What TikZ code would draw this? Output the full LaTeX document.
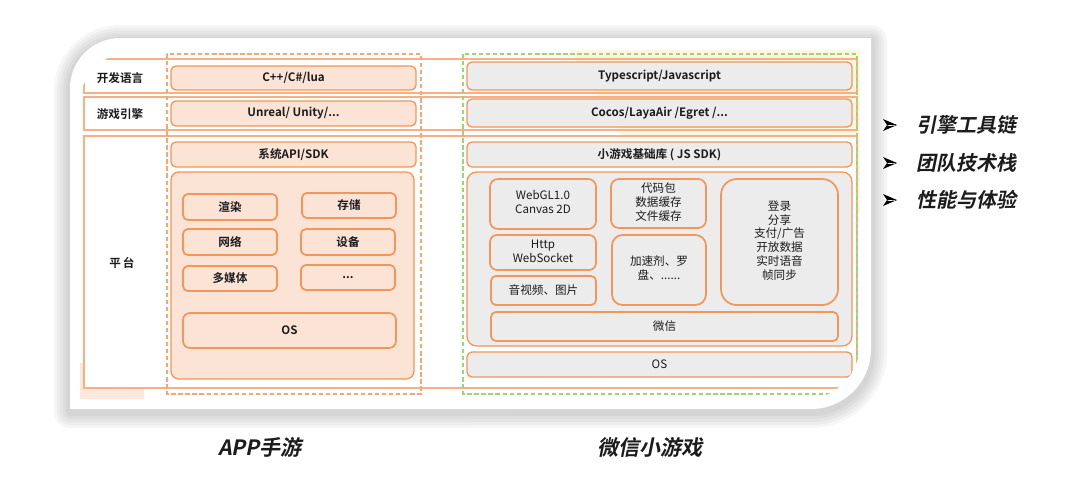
\documentclass[tikz,border=0pt]{standalone}
\usepackage{fontspec}
\setmainfont{Noto Sans CJK SC}[BoldFont={Noto Sans CJK SC Bold}]
\newfontfamily\slfont{Noto Sans CJK SC Bold}[FakeSlant=0.2]
\usetikzlibrary{fit}
\definecolor{org}{RGB}{242,150,90}
\definecolor{orgl}{RGB}{246,176,132}
\definecolor{peach}{RGB}{251,228,214}
\definecolor{gfill}{RGB}{236,236,236}
\definecolor{grn}{RGB}{160,210,120}
\definecolor{ylw}{RGB}{253,246,224}
\definecolor{txt}{RGB}{28,28,28}
\newcommand\bfs{\fontsize{6.6}{7.8}\selectfont}
\newcommand\bigfs{\fontsize{11.4}{13}\selectfont}
\newcommand\ml[1]{\begin{tabular}{@{}c@{}}#1\end{tabular}}
\tikzset{
  card/.style={insert path={(70,409) -- (70,88) arc[start angle=180,end angle=90,radius=1cm] -- (871,38) -- (871,349) arc[start angle=0,end angle=-90,radius=1.2cm] -- cycle}},
  rowband/.style={draw=orgl, line width=0.85pt},
  btxt/.style={font=\bfs\bfseries, text=txt, inner sep=0pt},
  rtxt/.style={font=\bfs, text=txt, inner sep=0pt},
  pbox/.style={draw=org, fill=peach, line width=0.75pt, rounded corners=2.8pt, inner sep=0pt},
  pin/.style={pbox, line width=1pt},
  gbox/.style={draw=org, fill=gfill, line width=0.75pt, rounded corners=2.8pt, inner sep=0pt},
  gin/.style={gbox, line width=1pt},
  bt/.style={label={[btxt]center:{#1}}},
  rt/.style={label={[rtxt]center:{#1}}},
  lbl/.style={font=\bfs\bfseries, text=txt},
  bul/.style={font=\bigfs\slfont, text=txt, anchor=west, inner sep=0pt},
  ttl/.style={font=\fontsize{12}{14}\selectfont\slfont, text=txt, inner sep=0pt},
  arrowhd/.pic={
    \fill[black] (7,0) -- (-7,-6) -- (-3,0) -- cycle;
    \fill[black] (7,0) -- (-7,6) -- (-3,0) -- cycle;
    \draw[white, line width=0.35pt] (-2.5,0.6) -- (5,0.3);
  },
}
\begin{document}
\begin{tikzpicture}[x=0.02cm,y=-0.02cm]
\useasboundingbox (0,0) rectangle (1080,498);
% card shadow
\begin{scope}[yshift=-0.06cm]
\foreach \w in {32,26,20,14,8}{
  \draw[line width=\w*0.02cm, black, opacity=0.035, line join=round, card];
}
\end{scope}
\fill[white, card];
\begin{scope}
\clip (78,400) -- (78,110) arc[start angle=180,end angle=90,radius=1.2cm] -- (860,50) -- (860,343) arc[start angle=0,end angle=-90,radius=1.14cm] -- cycle;
% background remnants
\fill[ylw] (570,50) -- (860,50) -- (860,213) -- (857,213) -- (857,136) -- (622,136) -- cycle;
\fill[peach!85!white] (80,363) -- (84,363) -- (84,389) -- (144,389) -- (144,399) -- (80,399) -- cycle;
% row bands
\draw[rowband] (84,59) rectangle (857,93);
\draw[rowband] (84,97) rectangle (857,130);
\draw[rowband] (84,136) rectangle (857,388);
% dashed columns
\draw[org!85!white, line width=0.7pt, dash pattern=on 2.4pt off 1.6pt] (167,54) rectangle (421,394);
\draw[grn, line width=0.7pt, dash pattern=on 2.4pt off 1.6pt] (463,54) rectangle (857,394);
% left column
\node[pbox, fit={(171,66) (416,90)}, bt={C++/C\#/lua}] (cpp) {};
\node[pbox, fit={(171,101) (416,126)}, bt={Unreal/ Unity/...}] (unreal) {};
\node[pbox, fit={(171,142) (416,167)}, bt={系统API/SDK}] (sysapi) {};
\node[pbox, rounded corners=4.5pt, fit={(171,172) (414,379)}] (lbig) {};
\node[pin, fit={(183,194) (277,220)}, bt={渲染}] (xr) {};
\node[pin, fit={(302,193) (396,218)}, bt={存储}] (cc) {};
\node[pin, fit={(183,229) (277,255)}, bt={网络}] (wl) {};
\node[pin, fit={(301,229) (395,255)}, bt={设备}] (sb) {};
\node[pin, fit={(183,266) (277,291)}, bt={多媒体}] (dmt) {};
\node[pin, fit={(301,265) (395,290)}, bt={...}] (etc) {};
\node[pin, rounded corners=4pt, fit={(183,313) (396,348)}, bt={OS}] (los) {};
% right column
\node[gbox, fit={(467,62) (852,90)}, bt={Typescript/Javascript}] (ts) {};
\node[gbox, fit={(467,99) (852,127)}, bt={Cocos/LayaAir /Egret /...}] (cocos) {};
\node[gbox, fit={(467,142) (852,167)}, bt={小游戏基础库 ( JS SDK)}] (jssdk) {};
\node[gbox, rounded corners=5.5pt, fit={(467,172) (852,346)}] (rbig) {};
\node[gin, rounded corners=4.5pt, fit={(490,179) (596,229)}, rt={\ml{WebGL1.0\\Canvas 2D}}] (webgl) {};
\node[gin, rounded corners=4pt, fit={(490,235) (596,270)}, rt={\ml{Http\\WebSocket}}] (http) {};
\node[gin, fit={(491,276) (596,305)}, rt={音视频、图片}] (av) {};
\node[gin, rounded corners=4.5pt, fit={(611,179) (706,228)}, rt={\ml{代码包\\数据缓存\\文件缓存}}] (code) {};
\node[gin, rounded corners=6pt, fit={(612,235) (706,305)}, rt={\ml{加速剂、罗\\盘、......}}] (accel) {};
\node[gin, rounded corners=9pt, fit={(721,179) (838,305)}, rt={\ml{登录\\分享\\支付/广告\\开放数据\\实时语音\\帧同步}}] (login) {};
\node[gin, fit={(491,312) (838,341)}, rt={微信}] (wx) {};
\node[gin, line width=0.75pt, fit={(467,352) (852,377)}, rt={OS}] (ros) {};
% row labels
\node[lbl] (kfyy) at (120,78) {开发语言};
\node[lbl] (yxyq) at (120,114) {游戏引擎};
\node[lbl] (pt) at (122,263) {平\,台};
\end{scope}
% bullet list
\pic at (890,125) {arrowhd};
\pic at (890,163) {arrowhd};
\pic at (890,200) {arrowhd};
\node[bul] (b1) at (916,125) {引擎工具链};
\node[bul] (b2) at (916,163) {团队技术栈};
\node[bul] (b3) at (916,200) {性能与体验};
% bottom titles
\node[ttl] (app) at (260,447) {APP手游};
\node[ttl] (wxg) at (650,447) {微信小游戏};
\end{tikzpicture}
\end{document}
